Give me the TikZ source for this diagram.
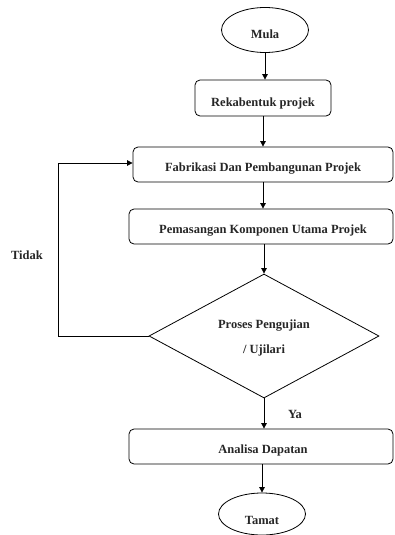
\documentclass[tikz,border=0pt]{standalone}
\usepackage{fontspec}
\setmainfont{Liberation Serif}
\usetikzlibrary{shapes.geometric,arrows.meta}
\begin{document}
\begin{tikzpicture}[x=1pt,y=-1pt,
  line width=0.8pt,
  every node/.style={font=\bfseries\fontsize{12.5}{14}\selectfont, text=black!85},
  boxx/.style={draw, rounded corners=5pt, inner sep=0pt},
  term/.style={draw, ellipse, inner sep=0pt, minimum width=87pt, minimum height=45pt},
  arr/.style={-{Triangle[length=5.5pt,width=5.5pt]}}
]
\useasboundingbox (0,0) rectangle (394,535);
\node[term] (mula) at (265,30) {};
\node (tmula) at (265,34) {Mula};
\node[boxx, minimum width=136pt, minimum height=36pt] (reka) at (263,98) {};
\node (treka) at (263,103) {Rekabentuk projek};
\node[boxx, minimum width=260pt, minimum height=35pt] (fab) at (263,164.5) {};
\node (tfab) at (263,169) {Fabrikasi Dan Pembangunan Projek};
\node[boxx, minimum width=264pt, minimum height=35pt] (pem) at (261,226.5) {};
\node (tpem) at (263,231) {Pemasangan Komponen Utama Projek};
\node[draw, diamond, inner sep=0pt, minimum width=230pt, minimum height=124pt, aspect=1.85] (dia) at (264,336) {};
\node (tdia1) at (264,326) {Proses Pengujian};
\node (tdia2) at (264,350) {/ Ujilari};
\node[boxx, minimum width=264pt, minimum height=35pt] (ana) at (261,446.5) {};
\node (tana) at (263,450) {Analisa Dapatan};
\node[term, minimum height=42pt] (tamat) at (262,514) {};
\node (ttamat) at (262,520) {Tamat};
\node (tidak) at (27,255) {Tidak};
\node (ya) at (295,414) {Ya};
\coordinate (c1) at (58,336);
\coordinate (c2) at (58,163);
\draw[arr] (mula.south) -- (reka.north -| mula.south);
\draw[arr] (reka.south) -- (fab.north -| reka.south);
\draw[arr] (fab.south) -- (pem.north -| fab.south);
\draw[arr] (pem.south -| dia.north) -- (dia.north);
\draw[arr] (dia.south) -- (ana.north -| dia.south);
\draw[arr] (ana.south -| tamat.north) -- (tamat.north);
\draw[arr] (dia.west) -- (c1) -- (c2) -- (c2 -| fab.west);
\end{tikzpicture}
\end{document}
